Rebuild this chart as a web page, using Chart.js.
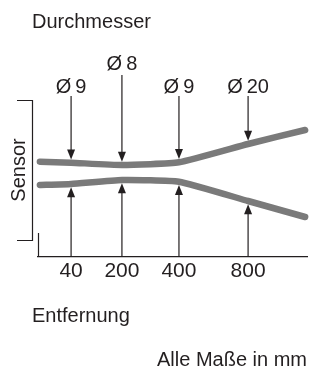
<!DOCTYPE html>
<html lang="de">
<head>
  <meta charset="UTF-8">
  <title>Durchmesser / Entfernung</title>
  <script src="https://cdn.jsdelivr.net/npm/chart.js@4"></script>
  <style>
    html, body { margin: 0; padding: 0; background: #fff; }
    canvas { display: block; }
  </style>
</head>
<body>
  <canvas id="chart" width="310" height="369"></canvas>
  <script>
    // Entfernung (mm) und Durchmesser an den Pfeilen
    const distances = ['40', '200', '400', '800'];
    const diameters = ['Ø\u20099', 'Ø\u20098', 'Ø\u20099', 'Ø\u200920'];
    // Lage der Pfeile auf der schematischen x-Achse
    const arrowX = [1.23, 3.12, 5.24, 7.81];
    // Verlauf der beiden Strahlkanten
    const edgeX = [0.07, 1.23, 3.12, 5.24, 7.81, 9.93];
    const upperEdge = [95.3, 94.3, 92, 94.7, 113, 127];
    const lowerEdge = [72, 73, 77, 75.3, 56, 40];

    const INK = '#231f20';
    const FAMILY = '"Liberation Sans", Arial, sans-serif';
    const FONT = '20px ' + FAMILY;
    const LINE_W = 6.5;

    function arrow(ctx, x, y0, y1) {
      // Linie von y0 nach y1, Spitze bei y1
      const dir = y1 > y0 ? 1 : -1;
      ctx.beginPath();
      ctx.moveTo(x, y0);
      ctx.lineTo(x, y1 - dir * 9);
      ctx.stroke();
      ctx.beginPath();
      ctx.moveTo(x, y1);
      ctx.lineTo(x - 4, y1 - dir * 10);
      ctx.lineTo(x + 4, y1 - dir * 10);
      ctx.closePath();
      ctx.fill();
    }

    const annotations = {
      id: 'annotations',
      afterDatasetsDraw(chart) {
        const { ctx, scales: { x, y } } = chart;
        ctx.save();
        ctx.strokeStyle = INK;
        ctx.fillStyle = INK;
        ctx.lineWidth = 1.2;
        ctx.font = FONT;

        // Pfeile und Durchmesser
        arrowX.forEach((v, i) => {
          const k = edgeX.indexOf(v);
          const px = x.getPixelForValue(v);
          const raised = i === 1;
          const topTip = y.getPixelForValue(upperEdge[k]) - LINE_W / 2;
          const botTip = y.getPixelForValue(lowerEdge[k]) + LINE_W / 2;
          arrow(ctx, px, raised ? 75 : 96, topTip);
          arrow(ctx, px, y.bottom, botTip);
          ctx.textAlign = 'center';
          ctx.textBaseline = 'alphabetic';
          ctx.fillText(diameters[i], px, raised ? 70 : 93);
        });

        // Sensor-Klammer
        ctx.beginPath();
        ctx.moveTo(17, 100.5);
        ctx.lineTo(32.5, 100.5);
        ctx.lineTo(32.5, 240.5);
        ctx.lineTo(17, 240.5);
        ctx.stroke();

        // kurzer Strich links an der Achse
        ctx.beginPath();
        ctx.moveTo(x.left + 0.5, 233);
        ctx.lineTo(x.left + 0.5, y.bottom);
        ctx.stroke();

        ctx.textAlign = 'left';
        ctx.fillText('Durchmesser', 32, 28);
        ctx.fillText('Entfernung', 32, 322);
        ctx.textAlign = 'right';
        ctx.fillText('Alle Maße in mm', 307, 366);

        ctx.translate(25, 170);
        ctx.rotate(-Math.PI / 2);
        ctx.textAlign = 'center';
        ctx.fillText('Sensor', 0, 0);
        ctx.restore();
      }
    };

    const edgeStyle = {
      borderColor: '#7a7a7a',
      borderWidth: LINE_W,
      borderCapStyle: 'round',
      borderJoinStyle: 'round',
      pointRadius: 0,
      tension: 0.15,
      fill: false,
      clip: false
    };

    new Chart(document.getElementById('chart'), {
      type: 'line',
      data: {
        datasets: [
          { ...edgeStyle, label: 'oben', data: edgeX.map((v, i) => ({ x: v, y: upperEdge[i] })) },
          { ...edgeStyle, label: 'unten', data: edgeX.map((v, i) => ({ x: v, y: lowerEdge[i] })) }
        ]
      },
      options: {
        responsive: false,
        animation: false,
        devicePixelRatio: 1,
        layout: { padding: { left: 38, right: 3, top: 97, bottom: 72 } },
        plugins: { legend: { display: false }, tooltip: { enabled: false } },
        scales: {
          x: {
            type: 'linear', min: 0, max: 10,
            grid: { display: false, drawTicks: false },
            border: { display: true, color: INK, width: 1.2 },
            afterBuildTicks: s => { s.ticks = arrowX.map(v => ({ value: v })); },
            afterFit: s => { s.height = 40; },
            ticks: {
              autoSkip: false, maxRotation: 0, padding: 2, color: INK,
              font: { family: FAMILY, size: 21 },
              callback: (v, i) => distances[i]
            }
          },
          y: { display: false, min: 0, max: 160 }
        }
      },
      plugins: [annotations]
    });
  </script>
</body>
</html>
